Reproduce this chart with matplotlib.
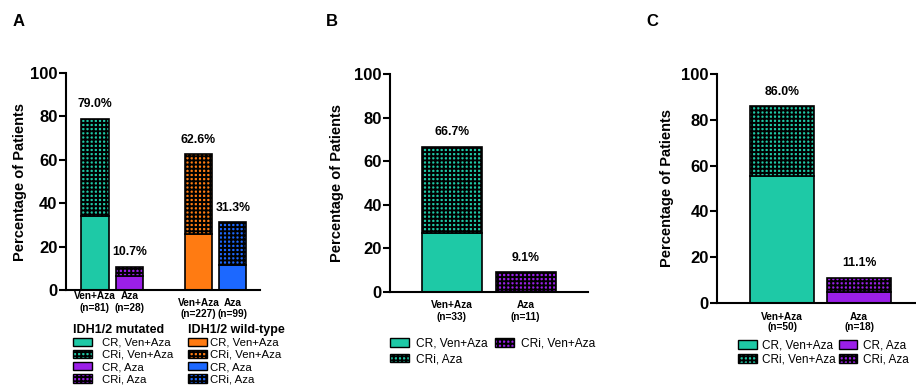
import matplotlib
matplotlib.use("Agg")
import matplotlib.pyplot as plt
from matplotlib.patches import Patch

plt.rcParams['font.family'] = ['Liberation Sans', 'DejaVu Sans']
plt.rcParams['hatch.linewidth'] = 1.4
plt.rcParams['hatch.color'] = 'black'

# ---------------- data ----------------
cats_A = ['Ven+Aza\n(n=81)', 'Aza\n(n=28)', 'Ven+Aza\n(n=227)', 'Aza\n(n=99)']
cr_A = [34.0, 6.5, 26.0, 11.5]
total_A = [79.0, 10.7, 62.6, 31.3]
labels_A = ['79.0%', '10.7%', '62.6%', '31.3%']

cats_B = ['Ven+Aza\n(n=33)', 'Aza\n(n=11)']
cr_B = [27.0, 0.0]
total_B = [66.7, 9.1]
labels_B = ['66.7%', '9.1%']

cats_C = ['Ven+Aza\n(n=50)', 'Aza\n(n=18)']
cr_C = [55.5, 5.0]
total_C = [86.0, 11.1]
labels_C = ['86.0%', '11.1%']

yticks = [0, 20, 40, 60, 80, 100]

TEAL = '#1ec9a6'
PURPLE = '#9b1fe8'
ORANGE = '#ff7b12'
BLUE = '#1c68ff'
HATCH = '++++'

fig = plt.figure(figsize=(9.16, 3.90), dpi=100)


def style_axes(ax, ylab_pad):
    ax.set_ylim(0, 100)
    ax.set_yticks(yticks)
    ax.spines['top'].set_visible(False)
    ax.spines['right'].set_visible(False)
    ax.spines['left'].set_linewidth(1.5)
    ax.spines['bottom'].set_linewidth(1.5)
    ax.tick_params(axis='y', width=1.5, length=5, labelsize=12, pad=1)
    for t in ax.get_yticklabels():
        t.set_fontweight('bold')
    ax.set_xticks([])
    ax.set_ylabel('Percentage of Patients', fontsize=10.5, fontweight='bold',
                  labelpad=ylab_pad)


def draw_bars(ax, pos, width, cr, total, colors, labels):
    cri = [t - c for t, c in zip(total, cr)]
    ax.bar(pos, cr, width=width, color=colors, edgecolor='black', linewidth=1.2)
    ax.bar(pos, cri, bottom=cr, width=width, color=colors, edgecolor='black',
           linewidth=1.2, hatch=HATCH)
    for p, t, lab in zip(pos, total, labels):
        ax.annotate(lab, (p, t), xytext=(0, 6), textcoords='offset points',
                    ha='center', va='bottom', fontsize=8.8, fontweight='bold')


def cat_labels(ax, pos, cats, y0, dy):
    tr = ax.get_xaxis_transform()
    for p, c in zip(pos, cats):
        l1, l2 = c.split('\n')
        ax.text(p, y0, l1, transform=tr, ha='center', va='center',
                fontsize=7.3, fontweight='bold')
        ax.text(p, y0 - dy, l2, transform=tr, ha='center', va='center',
                fontsize=7.3, fontweight='bold')


def handles(c):
    return [Patch(facecolor=c, edgecolor='black', linewidth=1.0),
            Patch(facecolor=c, edgecolor='black', linewidth=1.0, hatch=HATCH)]


# ---------------- Panel A ----------------
axA = fig.add_axes([0.072, 0.2564, 0.212, 0.5564])
posA = [1.036, 2.27, 4.73, 5.95]
draw_bars(axA, posA, 0.98, cr_A, total_A, [TEAL, PURPLE, ORANGE, BLUE], labels_A)
axA.set_xlim(0, 6.93)
style_axes(axA, 2)
cat_labels(axA, posA[:2], cats_A[:2], -0.028, 0.055)
cat_labels(axA, posA[2:], cats_A[2:], -0.06, 0.05)

fig.legend(handles(TEAL) + handles(PURPLE),
           ['CR, Ven+Aza', 'CRi, Ven+Aza', 'CR, Aza', 'CRi, Aza'],
           loc='upper left', bbox_to_anchor=(0.074, 0.185),
           frameon=False, fontsize=8.2, title='IDH1/2 mutated',
           title_fontproperties={'weight': 'bold', 'size': 9},
           alignment='left', borderpad=0, labelspacing=0.18,
           handlelength=1.6, handleheight=0.75, handletextpad=0.9)
fig.legend(handles(ORANGE) + handles(BLUE),
           ['CR, Ven+Aza', 'CRi, Ven+Aza', 'CR, Aza', 'CRi, Aza'],
           loc='upper left', bbox_to_anchor=(0.1995, 0.185),
           frameon=False, fontsize=8.2, title='IDH1/2 wild-type',
           title_fontproperties={'weight': 'bold', 'size': 9},
           alignment='left', borderpad=0, labelspacing=0.18,
           handlelength=1.6, handleheight=0.75, handletextpad=0.3)

# ---------------- Panel B ----------------
axB = fig.add_axes([0.4258, 0.2513, 0.2162, 0.559])
posB = [1.03, 2.26]
draw_bars(axB, posB, 1.0, cr_B, total_B, [TEAL, PURPLE], labels_B)
axB.set_xlim(0, 3.3)
style_axes(axB, 7)
cat_labels(axB, posB, cats_B, -0.06, 0.055)
fig.legend([handles(TEAL)[0], handles(TEAL)[1], handles(PURPLE)[1]],
           ['CR, Ven+Aza', 'CRi, Aza', 'CRi, Ven+Aza'],
           loc='upper left', bbox_to_anchor=(0.419, 0.150), ncol=2,
           frameon=False, fontsize=8.6, borderpad=0, labelspacing=0.3,
           handlelength=1.6, handleheight=0.75, handletextpad=0.6,
           columnspacing=0.6)

# ---------------- Panel C ----------------
axC = fig.add_axes([0.7828, 0.2231, 0.2172, 0.5872])
posC = [1.02, 2.22]
draw_bars(axC, posC, 1.0, cr_C, total_C, [TEAL, PURPLE], labels_C)
axC.set_xlim(0, 3.11)
style_axes(axC, 5)
cat_labels(axC, posC, cats_C, -0.061, 0.044)
fig.legend(handles(TEAL) + handles(PURPLE),
           ['CR, Ven+Aza', 'CRi, Ven+Aza', 'CR, Aza', 'CRi, Aza'],
           loc='upper left', bbox_to_anchor=(0.799, 0.145), ncol=2,
           frameon=False, fontsize=8.5, borderpad=0, labelspacing=0.2,
           handlelength=1.6, handleheight=0.75, handletextpad=0.45,
           columnspacing=0.25)

# panel letters
for x, lab in [(0.014, 'A'), (0.356, 'B'), (0.706, 'C')]:
    fig.text(x, 0.945, lab, fontsize=12, fontweight='bold', ha='left', va='center')

fig.savefig('out.png', dpi=100)
